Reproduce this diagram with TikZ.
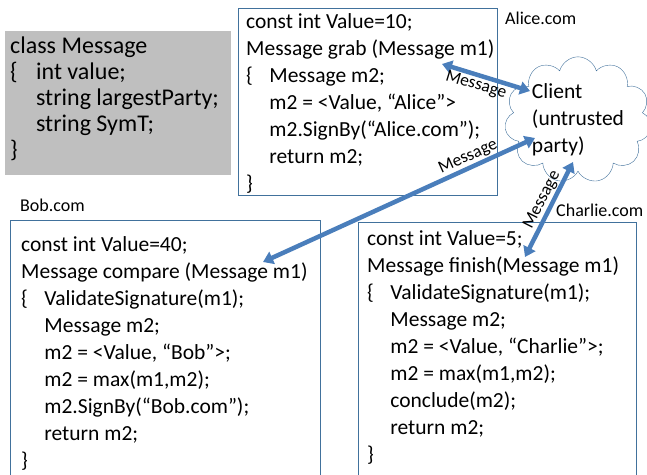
\documentclass[tikz,border=0pt]{standalone}
\usepackage{fontspec}
\setmainfont{Carlito}
\usetikzlibrary{shapes.symbols,arrows.meta}
\definecolor{boxblue}{RGB}{65,113,156}
\definecolor{arrowblue}{RGB}{74,126,187}
\definecolor{classgray}{RGB}{191,191,191}
\newcommand{\obr}{\makebox[1.08em][l]{\{}}
\newcommand{\ind}{\hspace*{1.08em}}

\begin{document}
\begin{tikzpicture}[x=1pt,y=-1pt,
    code/.style={anchor=north west,align=left,inner sep=0pt,font=\fontsize{21.5}{27}\selectfont},
    site/.style={anchor=west,inner sep=0pt,font=\fontsize{18}{20}\selectfont},
    msg/.style={arrowblue,line width=4.5pt,{Triangle[length=10pt,width=13pt]}-{Triangle[length=10pt,width=13pt]}},
    msglabel/.style={inner sep=1pt,text=black,font=\fontsize{17.5}{19}\selectfont}]
  \useasboundingbox (0,0) rectangle (647,474);
  \clip (0,0) rectangle (647,474);
  % \draw[step=50,gray,very thin] (0,0) grid (647,474);
  \fill[classgray] (5,31) rectangle (231,175);
  \draw[boxblue,thick] (238,8) rectangle (497,195);
  \draw[boxblue,thick] (10,220) rectangle (320,490);
  \draw[boxblue,thick] (358,222) rectangle (636,490);
  \node[code,font=\fontsize{24}{26}\selectfont] (msgclass) at (10,37)
    {class Message\\\obr int value;\\\ind string largestParty;\\\ind string SymT;\\\}};
  \node[code] (alice) at (246,13)
    {const int Value=10;\\Message grab (Message m1)\\\obr Message m2;\\\ind m2 = <Value, “Alice”>\\\ind m2.SignBy(“Alice.com”);\\\ind return m2;\\\}};
  \node[code] (bob) at (21,236)
    {const int Value=40;\\Message compare (Message m1)\\\obr ValidateSignature(m1);\\\ind Message m2;\\\ind m2 = <Value, “Bob”>;\\\ind m2 = max(m1,m2);\\\ind m2.SignBy(“Bob.com”);\\\ind return m2;\\\}};
  \node[code] (charlie) at (367,230)
    {const int Value=5;\\Message finish(Message m1)\\\obr ValidateSignature(m1);\\\ind Message m2;\\\ind m2 = <Value, “Charlie”>;\\\ind m2 = max(m1,m2);\\\ind conclude(m2);\\\ind return m2;\\\}};
  \node[site] (alicesite) at (505,18) {Alice.com};
  \node[site] (bobsite) at (20,205) {Bob.com};
  \node[site] (charliesite) at (556,210) {Charlie.com};
  \node[cloud,cloud puffs=11,cloud ignores aspect,draw=boxblue,fill=white,
    minimum width=142,minimum height=108,inner sep=0pt,align=left,
    font=\fontsize{21.5}{27}\selectfont] (client) at (578,120) {Client\\(untrusted\\party)};
  \coordinate (alicein) at (442,64);
  \coordinate (clienta) at (530,91);
  \coordinate (bobin) at (263,262);
  \coordinate (clientb) at (535,138);
  \coordinate (charliein) at (525,257);
  \coordinate (clientc) at (573,162);
  \draw[msg] (alicein) -- node[msglabel,sloped,below,pos=0.42] {Message} (clienta);
  \draw[msg] (bobin) -- node[msglabel,sloped,above,pos=0.77] {Message} (clientb);
  \draw[msg] (charliein) -- node[msglabel,sloped,above,pos=0.55] {Message} (clientc);
\end{tikzpicture}
\end{document}
